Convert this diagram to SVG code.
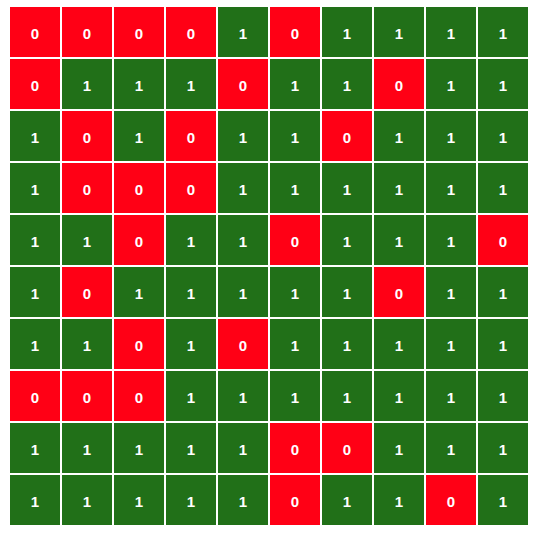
<svg xmlns="http://www.w3.org/2000/svg" width="542" height="536" viewBox="0 0 542 536">
<style>
rect.z{fill:#ff0015}
rect.o{fill:#217018}
text{fill:#ffffff;font-family:"Liberation Sans",Arial,sans-serif;font-weight:bold;font-size:15px;text-anchor:middle;dominant-baseline:central}
</style>
<rect width="542" height="536" fill="#ffffff"/>
<g id="r0">
<g id="c0_0"><rect class="z" x="10" y="7" width="50" height="50"/><text x="35" y="33">0</text></g>
<g id="c0_1"><rect class="z" x="62" y="7" width="50" height="50"/><text x="87" y="33">0</text></g>
<g id="c0_2"><rect class="z" x="114" y="7" width="50" height="50"/><text x="139" y="33">0</text></g>
<g id="c0_3"><rect class="z" x="166" y="7" width="50" height="50"/><text x="191" y="33">0</text></g>
<g id="c0_4"><rect class="o" x="218" y="7" width="50" height="50"/><text x="243" y="33">1</text></g>
<g id="c0_5"><rect class="z" x="270" y="7" width="50" height="50"/><text x="295" y="33">0</text></g>
<g id="c0_6"><rect class="o" x="322" y="7" width="50" height="50"/><text x="347" y="33">1</text></g>
<g id="c0_7"><rect class="o" x="374" y="7" width="50" height="50"/><text x="399" y="33">1</text></g>
<g id="c0_8"><rect class="o" x="426" y="7" width="50" height="50"/><text x="451" y="33">1</text></g>
<g id="c0_9"><rect class="o" x="478" y="7" width="50" height="50"/><text x="503" y="33">1</text></g>
</g>
<g id="r1">
<g id="c1_0"><rect class="z" x="10" y="59" width="50" height="50"/><text x="35" y="85">0</text></g>
<g id="c1_1"><rect class="o" x="62" y="59" width="50" height="50"/><text x="87" y="85">1</text></g>
<g id="c1_2"><rect class="o" x="114" y="59" width="50" height="50"/><text x="139" y="85">1</text></g>
<g id="c1_3"><rect class="o" x="166" y="59" width="50" height="50"/><text x="191" y="85">1</text></g>
<g id="c1_4"><rect class="z" x="218" y="59" width="50" height="50"/><text x="243" y="85">0</text></g>
<g id="c1_5"><rect class="o" x="270" y="59" width="50" height="50"/><text x="295" y="85">1</text></g>
<g id="c1_6"><rect class="o" x="322" y="59" width="50" height="50"/><text x="347" y="85">1</text></g>
<g id="c1_7"><rect class="z" x="374" y="59" width="50" height="50"/><text x="399" y="85">0</text></g>
<g id="c1_8"><rect class="o" x="426" y="59" width="50" height="50"/><text x="451" y="85">1</text></g>
<g id="c1_9"><rect class="o" x="478" y="59" width="50" height="50"/><text x="503" y="85">1</text></g>
</g>
<g id="r2">
<g id="c2_0"><rect class="o" x="10" y="111" width="50" height="50"/><text x="35" y="137">1</text></g>
<g id="c2_1"><rect class="z" x="62" y="111" width="50" height="50"/><text x="87" y="137">0</text></g>
<g id="c2_2"><rect class="o" x="114" y="111" width="50" height="50"/><text x="139" y="137">1</text></g>
<g id="c2_3"><rect class="z" x="166" y="111" width="50" height="50"/><text x="191" y="137">0</text></g>
<g id="c2_4"><rect class="o" x="218" y="111" width="50" height="50"/><text x="243" y="137">1</text></g>
<g id="c2_5"><rect class="o" x="270" y="111" width="50" height="50"/><text x="295" y="137">1</text></g>
<g id="c2_6"><rect class="z" x="322" y="111" width="50" height="50"/><text x="347" y="137">0</text></g>
<g id="c2_7"><rect class="o" x="374" y="111" width="50" height="50"/><text x="399" y="137">1</text></g>
<g id="c2_8"><rect class="o" x="426" y="111" width="50" height="50"/><text x="451" y="137">1</text></g>
<g id="c2_9"><rect class="o" x="478" y="111" width="50" height="50"/><text x="503" y="137">1</text></g>
</g>
<g id="r3">
<g id="c3_0"><rect class="o" x="10" y="163" width="50" height="50"/><text x="35" y="189">1</text></g>
<g id="c3_1"><rect class="z" x="62" y="163" width="50" height="50"/><text x="87" y="189">0</text></g>
<g id="c3_2"><rect class="z" x="114" y="163" width="50" height="50"/><text x="139" y="189">0</text></g>
<g id="c3_3"><rect class="z" x="166" y="163" width="50" height="50"/><text x="191" y="189">0</text></g>
<g id="c3_4"><rect class="o" x="218" y="163" width="50" height="50"/><text x="243" y="189">1</text></g>
<g id="c3_5"><rect class="o" x="270" y="163" width="50" height="50"/><text x="295" y="189">1</text></g>
<g id="c3_6"><rect class="o" x="322" y="163" width="50" height="50"/><text x="347" y="189">1</text></g>
<g id="c3_7"><rect class="o" x="374" y="163" width="50" height="50"/><text x="399" y="189">1</text></g>
<g id="c3_8"><rect class="o" x="426" y="163" width="50" height="50"/><text x="451" y="189">1</text></g>
<g id="c3_9"><rect class="o" x="478" y="163" width="50" height="50"/><text x="503" y="189">1</text></g>
</g>
<g id="r4">
<g id="c4_0"><rect class="o" x="10" y="215" width="50" height="50"/><text x="35" y="241">1</text></g>
<g id="c4_1"><rect class="o" x="62" y="215" width="50" height="50"/><text x="87" y="241">1</text></g>
<g id="c4_2"><rect class="z" x="114" y="215" width="50" height="50"/><text x="139" y="241">0</text></g>
<g id="c4_3"><rect class="o" x="166" y="215" width="50" height="50"/><text x="191" y="241">1</text></g>
<g id="c4_4"><rect class="o" x="218" y="215" width="50" height="50"/><text x="243" y="241">1</text></g>
<g id="c4_5"><rect class="z" x="270" y="215" width="50" height="50"/><text x="295" y="241">0</text></g>
<g id="c4_6"><rect class="o" x="322" y="215" width="50" height="50"/><text x="347" y="241">1</text></g>
<g id="c4_7"><rect class="o" x="374" y="215" width="50" height="50"/><text x="399" y="241">1</text></g>
<g id="c4_8"><rect class="o" x="426" y="215" width="50" height="50"/><text x="451" y="241">1</text></g>
<g id="c4_9"><rect class="z" x="478" y="215" width="50" height="50"/><text x="503" y="241">0</text></g>
</g>
<g id="r5">
<g id="c5_0"><rect class="o" x="10" y="267" width="50" height="50"/><text x="35" y="293">1</text></g>
<g id="c5_1"><rect class="z" x="62" y="267" width="50" height="50"/><text x="87" y="293">0</text></g>
<g id="c5_2"><rect class="o" x="114" y="267" width="50" height="50"/><text x="139" y="293">1</text></g>
<g id="c5_3"><rect class="o" x="166" y="267" width="50" height="50"/><text x="191" y="293">1</text></g>
<g id="c5_4"><rect class="o" x="218" y="267" width="50" height="50"/><text x="243" y="293">1</text></g>
<g id="c5_5"><rect class="o" x="270" y="267" width="50" height="50"/><text x="295" y="293">1</text></g>
<g id="c5_6"><rect class="o" x="322" y="267" width="50" height="50"/><text x="347" y="293">1</text></g>
<g id="c5_7"><rect class="z" x="374" y="267" width="50" height="50"/><text x="399" y="293">0</text></g>
<g id="c5_8"><rect class="o" x="426" y="267" width="50" height="50"/><text x="451" y="293">1</text></g>
<g id="c5_9"><rect class="o" x="478" y="267" width="50" height="50"/><text x="503" y="293">1</text></g>
</g>
<g id="r6">
<g id="c6_0"><rect class="o" x="10" y="319" width="50" height="50"/><text x="35" y="345">1</text></g>
<g id="c6_1"><rect class="o" x="62" y="319" width="50" height="50"/><text x="87" y="345">1</text></g>
<g id="c6_2"><rect class="z" x="114" y="319" width="50" height="50"/><text x="139" y="345">0</text></g>
<g id="c6_3"><rect class="o" x="166" y="319" width="50" height="50"/><text x="191" y="345">1</text></g>
<g id="c6_4"><rect class="z" x="218" y="319" width="50" height="50"/><text x="243" y="345">0</text></g>
<g id="c6_5"><rect class="o" x="270" y="319" width="50" height="50"/><text x="295" y="345">1</text></g>
<g id="c6_6"><rect class="o" x="322" y="319" width="50" height="50"/><text x="347" y="345">1</text></g>
<g id="c6_7"><rect class="o" x="374" y="319" width="50" height="50"/><text x="399" y="345">1</text></g>
<g id="c6_8"><rect class="o" x="426" y="319" width="50" height="50"/><text x="451" y="345">1</text></g>
<g id="c6_9"><rect class="o" x="478" y="319" width="50" height="50"/><text x="503" y="345">1</text></g>
</g>
<g id="r7">
<g id="c7_0"><rect class="z" x="10" y="371" width="50" height="50"/><text x="35" y="397">0</text></g>
<g id="c7_1"><rect class="z" x="62" y="371" width="50" height="50"/><text x="87" y="397">0</text></g>
<g id="c7_2"><rect class="z" x="114" y="371" width="50" height="50"/><text x="139" y="397">0</text></g>
<g id="c7_3"><rect class="o" x="166" y="371" width="50" height="50"/><text x="191" y="397">1</text></g>
<g id="c7_4"><rect class="o" x="218" y="371" width="50" height="50"/><text x="243" y="397">1</text></g>
<g id="c7_5"><rect class="o" x="270" y="371" width="50" height="50"/><text x="295" y="397">1</text></g>
<g id="c7_6"><rect class="o" x="322" y="371" width="50" height="50"/><text x="347" y="397">1</text></g>
<g id="c7_7"><rect class="o" x="374" y="371" width="50" height="50"/><text x="399" y="397">1</text></g>
<g id="c7_8"><rect class="o" x="426" y="371" width="50" height="50"/><text x="451" y="397">1</text></g>
<g id="c7_9"><rect class="o" x="478" y="371" width="50" height="50"/><text x="503" y="397">1</text></g>
</g>
<g id="r8">
<g id="c8_0"><rect class="o" x="10" y="423" width="50" height="50"/><text x="35" y="449">1</text></g>
<g id="c8_1"><rect class="o" x="62" y="423" width="50" height="50"/><text x="87" y="449">1</text></g>
<g id="c8_2"><rect class="o" x="114" y="423" width="50" height="50"/><text x="139" y="449">1</text></g>
<g id="c8_3"><rect class="o" x="166" y="423" width="50" height="50"/><text x="191" y="449">1</text></g>
<g id="c8_4"><rect class="o" x="218" y="423" width="50" height="50"/><text x="243" y="449">1</text></g>
<g id="c8_5"><rect class="z" x="270" y="423" width="50" height="50"/><text x="295" y="449">0</text></g>
<g id="c8_6"><rect class="z" x="322" y="423" width="50" height="50"/><text x="347" y="449">0</text></g>
<g id="c8_7"><rect class="o" x="374" y="423" width="50" height="50"/><text x="399" y="449">1</text></g>
<g id="c8_8"><rect class="o" x="426" y="423" width="50" height="50"/><text x="451" y="449">1</text></g>
<g id="c8_9"><rect class="o" x="478" y="423" width="50" height="50"/><text x="503" y="449">1</text></g>
</g>
<g id="r9">
<g id="c9_0"><rect class="o" x="10" y="475" width="50" height="50"/><text x="35" y="501">1</text></g>
<g id="c9_1"><rect class="o" x="62" y="475" width="50" height="50"/><text x="87" y="501">1</text></g>
<g id="c9_2"><rect class="o" x="114" y="475" width="50" height="50"/><text x="139" y="501">1</text></g>
<g id="c9_3"><rect class="o" x="166" y="475" width="50" height="50"/><text x="191" y="501">1</text></g>
<g id="c9_4"><rect class="o" x="218" y="475" width="50" height="50"/><text x="243" y="501">1</text></g>
<g id="c9_5"><rect class="z" x="270" y="475" width="50" height="50"/><text x="295" y="501">0</text></g>
<g id="c9_6"><rect class="o" x="322" y="475" width="50" height="50"/><text x="347" y="501">1</text></g>
<g id="c9_7"><rect class="o" x="374" y="475" width="50" height="50"/><text x="399" y="501">1</text></g>
<g id="c9_8"><rect class="z" x="426" y="475" width="50" height="50"/><text x="451" y="501">0</text></g>
<g id="c9_9"><rect class="o" x="478" y="475" width="50" height="50"/><text x="503" y="501">1</text></g>
</g>
</svg>
